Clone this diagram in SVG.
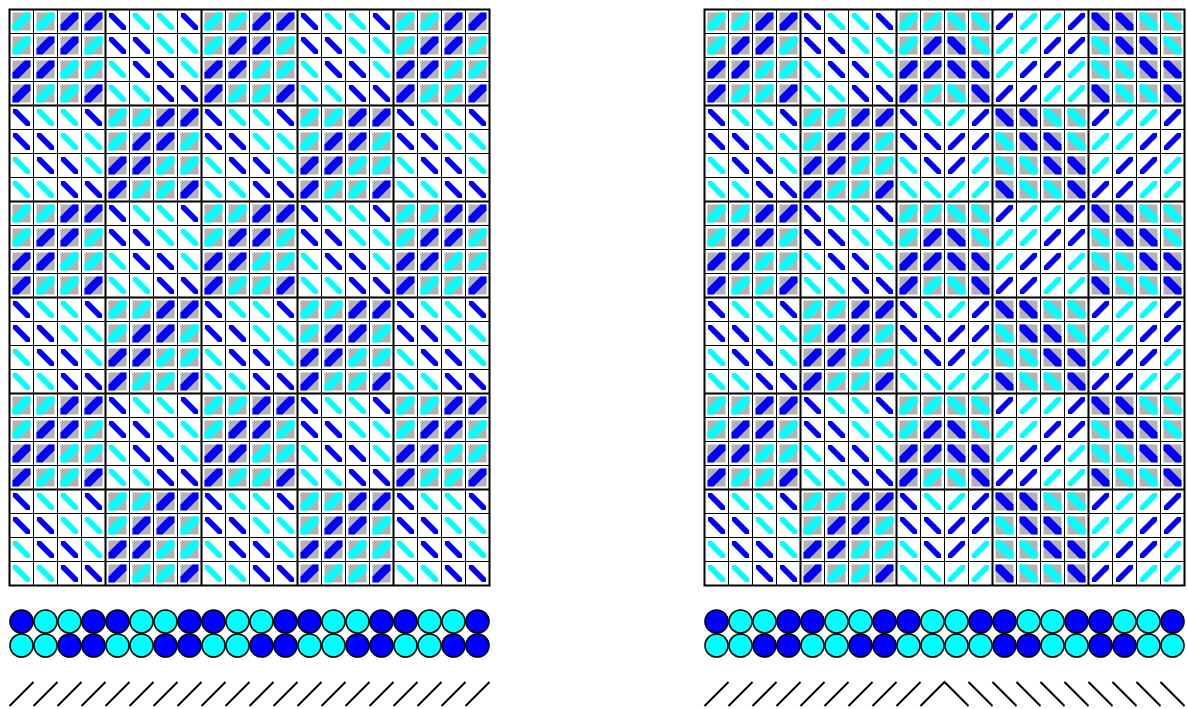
<svg xmlns="http://www.w3.org/2000/svg" xmlns:xlink="http://www.w3.org/1999/xlink" width="1187" height="709" viewBox="0 0 1187 709">
<style>
.gr{fill:#b3b3b3}
.cy{fill:#00ffff}
.bl{fill:#0000ff}
.thin{stroke:#000;stroke-width:1;fill:none}
.thick{stroke:#000;stroke-width:2;fill:none}
.cir{stroke:#000;stroke-width:1.6}
.sl{stroke:#000;stroke-width:2;fill:none}
</style>
<defs>
<g id="a"><rect class="gr" x="3" y="3" width="18" height="18"/><polygon class="cy" points="15,3 21,3 21,9 9,21 3,21 3,15"/></g>
<g id="b"><rect class="gr" x="3" y="3" width="18" height="18"/><polygon class="bl" points="15,3 21,3 21,9 9,21 3,21 3,15"/></g>
<g id="e"><rect class="gr" x="3" y="3" width="18" height="18"/><polygon class="cy" points="9,3 3,3 3,9 15,21 21,21 21,15"/></g>
<g id="f"><rect class="gr" x="3" y="3" width="18" height="18"/><polygon class="bl" points="9,3 3,3 3,9 15,21 21,21 21,15"/></g>
<polygon id="c" class="cy" points="3.5,3.5 7.5,3.5 20.5,16.5 20.5,20.5 16.5,20.5 3.5,7.5"/>
<polygon id="d" class="bl" points="3.5,3.5 7.5,3.5 20.5,16.5 20.5,20.5 16.5,20.5 3.5,7.5"/>
<polygon id="g" class="cy" points="20.5,3.5 16.5,3.5 3.5,16.5 3.5,20.5 7.5,20.5 20.5,7.5"/>
<polygon id="h" class="bl" points="20.5,3.5 16.5,3.5 3.5,16.5 3.5,20.5 7.5,20.5 20.5,7.5"/>

<g id="hl0"><use href="#a"/><use href="#a" x="24"/><use href="#b" x="48"/><use href="#b" x="72"/><use href="#d" x="96"/><use href="#c" x="120"/><use href="#c" x="144"/><use href="#d" x="168"/><use href="#a" x="192"/><use href="#a" x="216"/></g>
<g id="hl1"><use href="#a"/><use href="#b" x="24"/><use href="#b" x="48"/><use href="#a" x="72"/><use href="#d" x="96"/><use href="#d" x="120"/><use href="#c" x="144"/><use href="#c" x="168"/><use href="#a" x="192"/><use href="#b" x="216"/></g>
<g id="hl2"><use href="#b"/><use href="#b" x="24"/><use href="#a" x="48"/><use href="#a" x="72"/><use href="#c" x="96"/><use href="#d" x="120"/><use href="#d" x="144"/><use href="#c" x="168"/><use href="#b" x="192"/><use href="#b" x="216"/></g>
<g id="hl3"><use href="#b"/><use href="#a" x="24"/><use href="#a" x="48"/><use href="#b" x="72"/><use href="#c" x="96"/><use href="#c" x="120"/><use href="#d" x="144"/><use href="#d" x="168"/><use href="#b" x="192"/><use href="#a" x="216"/></g>
<g id="hl4"><use href="#d"/><use href="#c" x="24"/><use href="#c" x="48"/><use href="#d" x="72"/><use href="#a" x="96"/><use href="#a" x="120"/><use href="#b" x="144"/><use href="#b" x="168"/><use href="#d" x="192"/><use href="#c" x="216"/></g>
<g id="hl5"><use href="#d"/><use href="#d" x="24"/><use href="#c" x="48"/><use href="#c" x="72"/><use href="#a" x="96"/><use href="#b" x="120"/><use href="#b" x="144"/><use href="#a" x="168"/><use href="#d" x="192"/><use href="#d" x="216"/></g>
<g id="hl6"><use href="#c"/><use href="#d" x="24"/><use href="#d" x="48"/><use href="#c" x="72"/><use href="#b" x="96"/><use href="#b" x="120"/><use href="#a" x="144"/><use href="#a" x="168"/><use href="#c" x="192"/><use href="#d" x="216"/></g>
<g id="hl7"><use href="#c"/><use href="#c" x="24"/><use href="#d" x="48"/><use href="#d" x="72"/><use href="#b" x="96"/><use href="#a" x="120"/><use href="#a" x="144"/><use href="#b" x="168"/><use href="#c" x="192"/><use href="#c" x="216"/></g>

<g id="lr0"><use href="#b" x="240"/><use href="#b" x="264"/><use href="#d" x="288"/><use href="#c" x="312"/><use href="#c" x="336"/><use href="#d" x="360"/><use href="#a" x="384"/><use href="#a" x="408"/><use href="#b" x="432"/><use href="#b" x="456"/></g>
<g id="lr1"><use href="#b" x="240"/><use href="#a" x="264"/><use href="#d" x="288"/><use href="#d" x="312"/><use href="#c" x="336"/><use href="#c" x="360"/><use href="#a" x="384"/><use href="#b" x="408"/><use href="#b" x="432"/><use href="#a" x="456"/></g>
<g id="lr2"><use href="#a" x="240"/><use href="#a" x="264"/><use href="#c" x="288"/><use href="#d" x="312"/><use href="#d" x="336"/><use href="#c" x="360"/><use href="#b" x="384"/><use href="#b" x="408"/><use href="#a" x="432"/><use href="#a" x="456"/></g>
<g id="lr3"><use href="#a" x="240"/><use href="#b" x="264"/><use href="#c" x="288"/><use href="#c" x="312"/><use href="#d" x="336"/><use href="#d" x="360"/><use href="#b" x="384"/><use href="#a" x="408"/><use href="#a" x="432"/><use href="#b" x="456"/></g>
<g id="lr4"><use href="#c" x="240"/><use href="#d" x="264"/><use href="#a" x="288"/><use href="#a" x="312"/><use href="#b" x="336"/><use href="#b" x="360"/><use href="#d" x="384"/><use href="#c" x="408"/><use href="#c" x="432"/><use href="#d" x="456"/></g>
<g id="lr5"><use href="#c" x="240"/><use href="#c" x="264"/><use href="#a" x="288"/><use href="#b" x="312"/><use href="#b" x="336"/><use href="#a" x="360"/><use href="#d" x="384"/><use href="#d" x="408"/><use href="#c" x="432"/><use href="#c" x="456"/></g>
<g id="lr6"><use href="#d" x="240"/><use href="#c" x="264"/><use href="#b" x="288"/><use href="#b" x="312"/><use href="#a" x="336"/><use href="#a" x="360"/><use href="#c" x="384"/><use href="#d" x="408"/><use href="#d" x="432"/><use href="#c" x="456"/></g>
<g id="lr7"><use href="#d" x="240"/><use href="#d" x="264"/><use href="#b" x="288"/><use href="#a" x="312"/><use href="#a" x="336"/><use href="#b" x="360"/><use href="#c" x="384"/><use href="#c" x="408"/><use href="#d" x="432"/><use href="#d" x="456"/></g>

<g id="rr0"><use href="#e" x="240"/><use href="#e" x="264"/><use href="#h" x="288"/><use href="#g" x="312"/><use href="#g" x="336"/><use href="#h" x="360"/><use href="#f" x="384"/><use href="#f" x="408"/><use href="#e" x="432"/><use href="#e" x="456"/></g>
<g id="rr1"><use href="#f" x="240"/><use href="#e" x="264"/><use href="#g" x="288"/><use href="#g" x="312"/><use href="#h" x="336"/><use href="#h" x="360"/><use href="#e" x="384"/><use href="#f" x="408"/><use href="#f" x="432"/><use href="#e" x="456"/></g>
<g id="rr2"><use href="#f" x="240"/><use href="#f" x="264"/><use href="#g" x="288"/><use href="#h" x="312"/><use href="#h" x="336"/><use href="#g" x="360"/><use href="#e" x="384"/><use href="#e" x="408"/><use href="#f" x="432"/><use href="#f" x="456"/></g>
<g id="rr3"><use href="#e" x="240"/><use href="#f" x="264"/><use href="#h" x="288"/><use href="#h" x="312"/><use href="#g" x="336"/><use href="#g" x="360"/><use href="#f" x="384"/><use href="#e" x="408"/><use href="#e" x="432"/><use href="#f" x="456"/></g>
<g id="rr4"><use href="#g" x="240"/><use href="#h" x="264"/><use href="#f" x="288"/><use href="#f" x="312"/><use href="#e" x="336"/><use href="#e" x="360"/><use href="#h" x="384"/><use href="#g" x="408"/><use href="#g" x="432"/><use href="#h" x="456"/></g>
<g id="rr5"><use href="#h" x="240"/><use href="#h" x="264"/><use href="#e" x="288"/><use href="#f" x="312"/><use href="#f" x="336"/><use href="#e" x="360"/><use href="#g" x="384"/><use href="#g" x="408"/><use href="#h" x="432"/><use href="#h" x="456"/></g>
<g id="rr6"><use href="#h" x="240"/><use href="#g" x="264"/><use href="#e" x="288"/><use href="#e" x="312"/><use href="#f" x="336"/><use href="#f" x="360"/><use href="#g" x="384"/><use href="#h" x="408"/><use href="#h" x="432"/><use href="#g" x="456"/></g>
<g id="rr7"><use href="#g" x="240"/><use href="#g" x="264"/><use href="#f" x="288"/><use href="#e" x="312"/><use href="#e" x="336"/><use href="#f" x="360"/><use href="#h" x="384"/><use href="#h" x="408"/><use href="#g" x="432"/><use href="#g" x="456"/></g>

<g id="gridlines">
<path class="thin" d="M24 0V576M48 0V576M72 0V576M120 0V576M144 0V576M168 0V576M216 0V576M240 0V576M264 0V576M312 0V576M336 0V576M360 0V576M408 0V576M432 0V576M456 0V576M0 24H480M0 48H480M0 72H480M0 120H480M0 144H480M0 168H480M0 216H480M0 240H480M0 264H480M0 312H480M0 336H480M0 360H480M0 408H480M0 432H480M0 456H480M0 504H480M0 528H480M0 552H480"/>
<path class="thick" d="M96 0V576M192 0V576M288 0V576M384 0V576M0 96H480M0 192H480M0 288H480M0 384H480M0 480H480"/>
<rect class="thick" x="0" y="0" width="480" height="576"/>
</g>
</defs>

<g id="left-grid" transform="translate(9.5 9.5)">
<g id="left-cells">
<use href="#hl0" y="0"/><use href="#lr0" y="0"/>
<use href="#hl1" y="24"/><use href="#lr1" y="24"/>
<use href="#hl2" y="48"/><use href="#lr2" y="48"/>
<use href="#hl3" y="72"/><use href="#lr3" y="72"/>
<use href="#hl4" y="96"/><use href="#lr4" y="96"/>
<use href="#hl5" y="120"/><use href="#lr5" y="120"/>
<use href="#hl6" y="144"/><use href="#lr6" y="144"/>
<use href="#hl7" y="168"/><use href="#lr7" y="168"/>
<use href="#hl0" y="192"/><use href="#lr0" y="192"/>
<use href="#hl1" y="216"/><use href="#lr1" y="216"/>
<use href="#hl2" y="240"/><use href="#lr2" y="240"/>
<use href="#hl3" y="264"/><use href="#lr3" y="264"/>
<use href="#hl4" y="288"/><use href="#lr4" y="288"/>
<use href="#hl5" y="312"/><use href="#lr5" y="312"/>
<use href="#hl6" y="336"/><use href="#lr6" y="336"/>
<use href="#hl7" y="360"/><use href="#lr7" y="360"/>
<use href="#hl0" y="384"/><use href="#lr0" y="384"/>
<use href="#hl1" y="408"/><use href="#lr1" y="408"/>
<use href="#hl2" y="432"/><use href="#lr2" y="432"/>
<use href="#hl3" y="456"/><use href="#lr3" y="456"/>
<use href="#hl4" y="480"/><use href="#lr4" y="480"/>
<use href="#hl5" y="504"/><use href="#lr5" y="504"/>
<use href="#hl6" y="528"/><use href="#lr6" y="528"/>
<use href="#hl7" y="552"/><use href="#lr7" y="552"/>
</g>
<use href="#gridlines"/>
</g>

<g id="right-grid" transform="translate(704.5 9.5)">
<g id="right-cells">
<use href="#hl0" y="0"/><use href="#rr0" y="0"/>
<use href="#hl1" y="24"/><use href="#rr1" y="24"/>
<use href="#hl2" y="48"/><use href="#rr2" y="48"/>
<use href="#hl3" y="72"/><use href="#rr3" y="72"/>
<use href="#hl4" y="96"/><use href="#rr4" y="96"/>
<use href="#hl5" y="120"/><use href="#rr5" y="120"/>
<use href="#hl6" y="144"/><use href="#rr6" y="144"/>
<use href="#hl7" y="168"/><use href="#rr7" y="168"/>
<use href="#hl0" y="192"/><use href="#rr0" y="192"/>
<use href="#hl1" y="216"/><use href="#rr1" y="216"/>
<use href="#hl2" y="240"/><use href="#rr2" y="240"/>
<use href="#hl3" y="264"/><use href="#rr3" y="264"/>
<use href="#hl4" y="288"/><use href="#rr4" y="288"/>
<use href="#hl5" y="312"/><use href="#rr5" y="312"/>
<use href="#hl6" y="336"/><use href="#rr6" y="336"/>
<use href="#hl7" y="360"/><use href="#rr7" y="360"/>
<use href="#hl0" y="384"/><use href="#rr0" y="384"/>
<use href="#hl1" y="408"/><use href="#rr1" y="408"/>
<use href="#hl2" y="432"/><use href="#rr2" y="432"/>
<use href="#hl3" y="456"/><use href="#rr3" y="456"/>
<use href="#hl4" y="480"/><use href="#rr4" y="480"/>
<use href="#hl5" y="504"/><use href="#rr5" y="504"/>
<use href="#hl6" y="528"/><use href="#rr6" y="528"/>
<use href="#hl7" y="552"/><use href="#rr7" y="552"/>
</g>
<use href="#gridlines"/>
</g>

<g id="left-circles" class="cir">
<circle class="bl" cx="21.5" cy="621.5" r="11.5"/><circle class="cy" cx="45.5" cy="621.5" r="11.5"/><circle class="cy" cx="69.5" cy="621.5" r="11.5"/><circle class="bl" cx="93.5" cy="621.5" r="11.5"/><circle class="bl" cx="117.5" cy="621.5" r="11.5"/><circle class="cy" cx="141.5" cy="621.5" r="11.5"/><circle class="cy" cx="165.5" cy="621.5" r="11.5"/><circle class="bl" cx="189.5" cy="621.5" r="11.5"/><circle class="bl" cx="213.5" cy="621.5" r="11.5"/><circle class="cy" cx="237.5" cy="621.5" r="11.5"/><circle class="cy" cx="261.5" cy="621.5" r="11.5"/><circle class="bl" cx="285.5" cy="621.5" r="11.5"/><circle class="bl" cx="309.5" cy="621.5" r="11.5"/><circle class="cy" cx="333.5" cy="621.5" r="11.5"/><circle class="cy" cx="357.5" cy="621.5" r="11.5"/><circle class="bl" cx="381.5" cy="621.5" r="11.5"/><circle class="bl" cx="405.5" cy="621.5" r="11.5"/><circle class="cy" cx="429.5" cy="621.5" r="11.5"/><circle class="cy" cx="453.5" cy="621.5" r="11.5"/><circle class="bl" cx="477.5" cy="621.5" r="11.5"/>
<circle class="cy" cx="21.5" cy="645.5" r="11.5"/><circle class="cy" cx="45.5" cy="645.5" r="11.5"/><circle class="bl" cx="69.5" cy="645.5" r="11.5"/><circle class="bl" cx="93.5" cy="645.5" r="11.5"/><circle class="cy" cx="117.5" cy="645.5" r="11.5"/><circle class="cy" cx="141.5" cy="645.5" r="11.5"/><circle class="bl" cx="165.5" cy="645.5" r="11.5"/><circle class="bl" cx="189.5" cy="645.5" r="11.5"/><circle class="cy" cx="213.5" cy="645.5" r="11.5"/><circle class="cy" cx="237.5" cy="645.5" r="11.5"/><circle class="bl" cx="261.5" cy="645.5" r="11.5"/><circle class="bl" cx="285.5" cy="645.5" r="11.5"/><circle class="cy" cx="309.5" cy="645.5" r="11.5"/><circle class="cy" cx="333.5" cy="645.5" r="11.5"/><circle class="bl" cx="357.5" cy="645.5" r="11.5"/><circle class="bl" cx="381.5" cy="645.5" r="11.5"/><circle class="cy" cx="405.5" cy="645.5" r="11.5"/><circle class="cy" cx="429.5" cy="645.5" r="11.5"/><circle class="bl" cx="453.5" cy="645.5" r="11.5"/><circle class="bl" cx="477.5" cy="645.5" r="11.5"/>
</g>

<g id="right-circles" class="cir">
<circle class="bl" cx="716.5" cy="621.5" r="11.5"/><circle class="cy" cx="740.5" cy="621.5" r="11.5"/><circle class="cy" cx="764.5" cy="621.5" r="11.5"/><circle class="bl" cx="788.5" cy="621.5" r="11.5"/><circle class="bl" cx="812.5" cy="621.5" r="11.5"/><circle class="cy" cx="836.5" cy="621.5" r="11.5"/><circle class="cy" cx="860.5" cy="621.5" r="11.5"/><circle class="bl" cx="884.5" cy="621.5" r="11.5"/><circle class="bl" cx="908.5" cy="621.5" r="11.5"/><circle class="cy" cx="932.5" cy="621.5" r="11.5"/><circle class="cy" cx="956.5" cy="621.5" r="11.5"/><circle class="bl" cx="980.5" cy="621.5" r="11.5"/><circle class="bl" cx="1004.5" cy="621.5" r="11.5"/><circle class="cy" cx="1028.5" cy="621.5" r="11.5"/><circle class="cy" cx="1052.5" cy="621.5" r="11.5"/><circle class="bl" cx="1076.5" cy="621.5" r="11.5"/><circle class="bl" cx="1100.5" cy="621.5" r="11.5"/><circle class="cy" cx="1124.5" cy="621.5" r="11.5"/><circle class="cy" cx="1148.5" cy="621.5" r="11.5"/><circle class="bl" cx="1172.5" cy="621.5" r="11.5"/>
<circle class="cy" cx="716.5" cy="645.5" r="11.5"/><circle class="cy" cx="740.5" cy="645.5" r="11.5"/><circle class="bl" cx="764.5" cy="645.5" r="11.5"/><circle class="bl" cx="788.5" cy="645.5" r="11.5"/><circle class="cy" cx="812.5" cy="645.5" r="11.5"/><circle class="cy" cx="836.5" cy="645.5" r="11.5"/><circle class="bl" cx="860.5" cy="645.5" r="11.5"/><circle class="bl" cx="884.5" cy="645.5" r="11.5"/><circle class="cy" cx="908.5" cy="645.5" r="11.5"/><circle class="cy" cx="932.5" cy="645.5" r="11.5"/><circle class="cy" cx="956.5" cy="645.5" r="11.5"/><circle class="cy" cx="980.5" cy="645.5" r="11.5"/><circle class="bl" cx="1004.5" cy="645.5" r="11.5"/><circle class="bl" cx="1028.5" cy="645.5" r="11.5"/><circle class="cy" cx="1052.5" cy="645.5" r="11.5"/><circle class="cy" cx="1076.5" cy="645.5" r="11.5"/><circle class="bl" cx="1100.5" cy="645.5" r="11.5"/><circle class="bl" cx="1124.5" cy="645.5" r="11.5"/><circle class="cy" cx="1148.5" cy="645.5" r="11.5"/><circle class="cy" cx="1172.5" cy="645.5" r="11.5"/>
</g>

<g id="left-slashes">
<path class="sl" d="M9.5 706L33.5 682M33.5 706L57.5 682M57.5 706L81.5 682M81.5 706L105.5 682M105.5 706L129.5 682M129.5 706L153.5 682M153.5 706L177.5 682M177.5 706L201.5 682M201.5 706L225.5 682M225.5 706L249.5 682M249.5 706L273.5 682M273.5 706L297.5 682M297.5 706L321.5 682M321.5 706L345.5 682M345.5 706L369.5 682M369.5 706L393.5 682M393.5 706L417.5 682M417.5 706L441.5 682M441.5 706L465.5 682M465.5 706L489.5 682"/>
</g>
<g id="right-slashes">
<path class="sl" d="M704.5 706L728.5 682M728.5 706L752.5 682M752.5 706L776.5 682M776.5 706L800.5 682M800.5 706L824.5 682M824.5 706L848.5 682M848.5 706L872.5 682M872.5 706L896.5 682M896.5 706L920.5 682M920.5 706L944.5 682L968.5 706M968.5 682L992.5 706M992.5 682L1016.5 706M1016.5 682L1040.5 706M1040.5 682L1064.5 706M1064.5 682L1088.5 706M1088.5 682L1112.5 706M1112.5 682L1136.5 706M1136.5 682L1160.5 706M1160.5 682L1184.5 706"/>
</g>
</svg>
